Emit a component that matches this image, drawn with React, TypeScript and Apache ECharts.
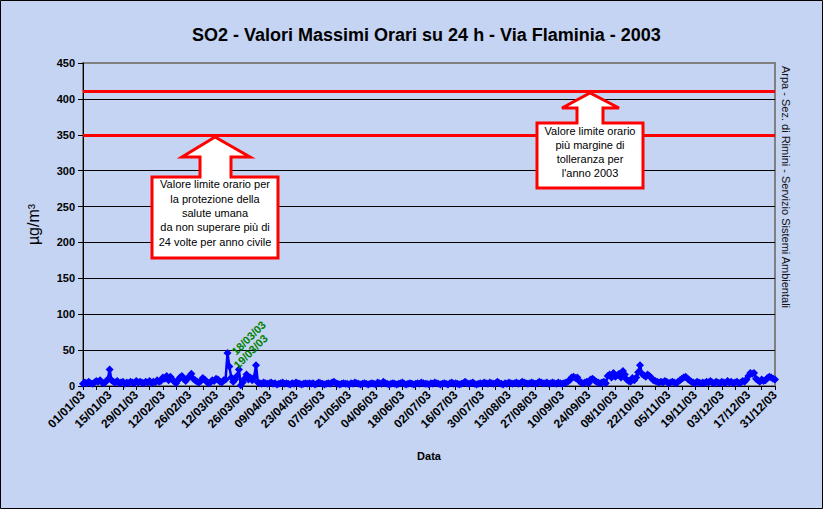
import React, { useEffect, useRef } from "react";
import * as echarts from "echarts";

const monthLengths = [31, 28, 31, 30, 31, 30, 31, 31, 30, 31, 30, 31];

const jan = [3, 5, 4, 6, 4, 3, 5, 7, 6, 8, 5, 4, 6, 9, 23, 8, 6, 5, 7, 4, 5, 6, 3, 5, 4, 6, 5, 4, 7, 5, 6];
const feb = [5, 4, 6, 5, 7, 4, 6, 5, 8, 6, 7, 12, 10, 14, 8, 13, 9, 6, 4, 8, 12, 14, 10, 7, 11, 13, 17, 10];
const mar = [8, 6, 5, 7, 11, 9, 6, 4, 5, 8, 7, 10, 9, 6, 5, 8, 9, 46, 27, 12, 6, 9, 14, 23, 1, 5, 10, 16, 9, 12, 8];
const apr = [12, 29, 5, 4, 3, 5, 4, 3, 4, 5, 3, 4, 2, 3, 4, 5, 3, 4, 3, 2, 4, 3, 5, 4, 3, 2, 3, 4, 3, 4];
const may = [3, 4, 2, 3, 5, 4, 3, 2, 3, 4, 3, 5, 6, 4, 3, 2, 3, 4, 3, 3, 2, 4, 3, 5, 4, 3, 2, 3, 4, 3, 2];
const jun = [3, 4, 3, 2, 5, 4, 3, 6, 4, 3, 2, 3, 4, 3, 2, 3, 4, 5, 3, 2, 3, 4, 3, 2, 3, 4, 3, 5, 4, 3];
const jul = [3, 2, 4, 3, 5, 4, 3, 2, 3, 4, 3, 2, 4, 5, 3, 4, 3, 2, 3, 4, 6, 4, 3, 4, 5, 3, 2, 3, 4, 3, 5];
const aug = [4, 3, 5, 4, 3, 4, 6, 4, 3, 2, 4, 3, 5, 4, 3, 4, 5, 3, 4, 6, 5, 4, 3, 4, 5, 4, 3, 4, 6, 5, 4];
const sep = [4, 5, 3, 4, 5, 4, 3, 5, 4, 3, 4, 5, 6, 8, 12, 13, 11, 12, 7, 5, 4, 5, 6, 4, 9, 10, 8, 6, 5, 4];
const oct = [5, 6, 4, 14, 16, 12, 18, 13, 15, 17, 12, 21, 16, 9, 7, 6, 11, 8, 12, 19, 29, 17, 15, 13, 16, 14, 11, 8, 7, 6, 5];
const nov = [6, 5, 7, 6, 4, 5, 6, 5, 4, 6, 8, 10, 12, 13, 10, 8, 6, 5, 4, 6, 5, 4, 5, 4, 6, 5, 7, 5, 4, 6];
const dec = [5, 4, 6, 5, 4, 7, 5, 6, 4, 5, 6, 4, 5, 7, 6, 9, 14, 18, 17, 18, 10, 8, 6, 9, 7, 8, 11, 13, 12, 10, 9];

const so2Values = [...jan, ...feb, ...mar, ...apr, ...may, ...jun, ...jul, ...aug, ...sep, ...oct, ...nov, ...dec];

const limitHealth = 350;
const limitWithMargin = 410;
const labelledDates = ["18/03/03", "19/03/03"];

const titleText = "SO2 - Valori Massimi Orari su 24 h - Via Flaminia - 2003";
const sideText = "Arpa - Sez. di Rimini - Servizio Sistemi Ambientali";
const note1 = "Valore limite orario per\nla protezione della\nsalute umana\nda non superare più di\n24 volte per anno civile";
const note2 = "Valore limite orario\npiù margine di\ntolleranza per\nl'anno 2003";

const pad = (n: number) => (n < 10 ? "0" + n : "" + n);
const categories: string[] = [];
monthLengths.forEach((len, m) => {
  for (let d = 1; d <= len; d++) categories.push(`${pad(d)}/${pad(m + 1)}/03`);
});

const FONT = "'Liberation Sans', Arial, sans-serif";

export default function App() {
  const ref = useRef<HTMLDivElement>(null);
  useEffect(() => {
    document.body.style.margin = "0";
    if (!ref.current) return;
    const chart = echarts.init(ref.current, null, { renderer: "svg" });

    const data = so2Values.map((v, i) => {
      const cat = categories[i];
      if (labelledDates.includes(cat)) {
        return {
          value: v,
          label: {
            show: true,
            formatter: cat,
            position: "right",
            distance: 2,
            rotate: 45,
            color: "#008000",
            fontFamily: FONT,
            fontWeight: "bold",
            fontSize: 11,
          },
        };
      }
      return v;
    });

    const arrow1 = [
      [152, 258], [152, 177], [200, 177], [200, 157], [182, 157], [215, 137],
      [250, 157], [231, 157], [231, 177], [278, 177], [278, 258],
    ];
    const arrow2 = [
      [537, 188], [537, 123], [577, 123], [577, 108], [562, 108], [590, 93],
      [619, 108], [603, 108], [603, 123], [643, 123], [643, 188],
    ];

    chart.setOption({
      animation: false,
      backgroundColor: "#c4d4f2",
      title: {
        text: titleText,
        left: 187,
        top: 21,
        textStyle: { fontFamily: FONT, fontWeight: "bold", fontSize: 18, color: "#000" },
      },
      grid: {
        left: 83,
        top: 63,
        right: 48,
        bottom: 123,
        show: true,
        borderColor: "#808080",
        borderWidth: 2,
        backgroundColor: "transparent",
      },
      xAxis: {
        type: "category",
        data: categories,
        boundaryGap: false,
        name: "Data",
        nameLocation: "middle",
        nameGap: 64,
        nameTextStyle: { fontFamily: FONT, fontWeight: "bold", fontSize: 11, color: "#000" },
        axisLine: { lineStyle: { color: "#000", width: 1 } },
        axisTick: { show: true, interval: 6, length: 4, lineStyle: { color: "#000" } },
        axisLabel: {
          interval: 13,
          rotate: 45,
          margin: 7,
          fontFamily: FONT,
          fontWeight: "bold",
          fontSize: 12,
          color: "#000",
        },
        splitLine: { show: false },
      },
      yAxis: {
        type: "value",
        min: 0,
        max: 450,
        interval: 50,
        name: "µg/m³",
        nameLocation: "middle",
        nameRotate: 90,
        nameGap: 42,
        nameTextStyle: { fontFamily: FONT, fontSize: 16, color: "#000" },
        axisLine: { show: true, lineStyle: { color: "#000", width: 1 } },
        axisTick: { show: true, length: 5, lineStyle: { color: "#000" } },
        axisLabel: { fontFamily: FONT, fontWeight: "bold", fontSize: 11, color: "#000", margin: 8 },
        splitLine: { show: true, showMaxLine: false, lineStyle: { color: "#000", width: 1 } },
      },
      series: [
        {
          type: "line",
          data,
          symbol: "diamond",
          symbolSize: 8,
          showAllSymbol: true,
          color: "#0000ff",
          lineStyle: { color: "#0000ff", width: 2.5 },
          itemStyle: { color: "#0000ff" },
          markLine: {
            silent: true,
            symbol: "none",
            label: { show: false },
            lineStyle: { color: "#ff0000", width: 3, type: "solid" },
            data: [{ yAxis: limitHealth }, { yAxis: limitWithMargin }],
          },
          z: 3,
        },
      ],
      graphic: [
        {
          type: "polygon",
          shape: { points: arrow1 },
          style: { fill: "#ffffff", stroke: "#ff0000", lineWidth: 3 },
          z: 10,
        },
        {
          type: "text",
          x: 215,
          y: 213,
          style: {
            text: note1,
            font: `11px ${FONT}`,
            fill: "#000",
            align: "center",
            verticalAlign: "middle",
            lineHeight: 14.3,
          },
          z: 11,
        },
        {
          type: "polygon",
          shape: { points: arrow2 },
          style: { fill: "#ffffff", stroke: "#ff0000", lineWidth: 3 },
          z: 10,
        },
        {
          type: "text",
          x: 590,
          y: 152,
          style: {
            text: note2,
            font: `11px ${FONT}`,
            fill: "#000",
            align: "center",
            verticalAlign: "middle",
            lineHeight: 14,
          },
          z: 11,
        },
        {
          type: "text",
          x: 786,
          y: 187,
          rotation: -Math.PI / 2,
          style: {
            text: sideText,
            font: `11px ${FONT}`,
            fill: "#111",
            align: "center",
            verticalAlign: "middle",
          },
          z: 11,
        },
        {
          type: "rect",
          shape: { x: 0.5, y: 0.5, width: 822, height: 508 },
          style: { fill: "none", stroke: "#000", lineWidth: 1 },
          z: 20,
        },
      ],
    });
    return () => chart.dispose();
  }, []);
  return <div ref={ref} style={{ width: 823, height: 509 }} />;
}
